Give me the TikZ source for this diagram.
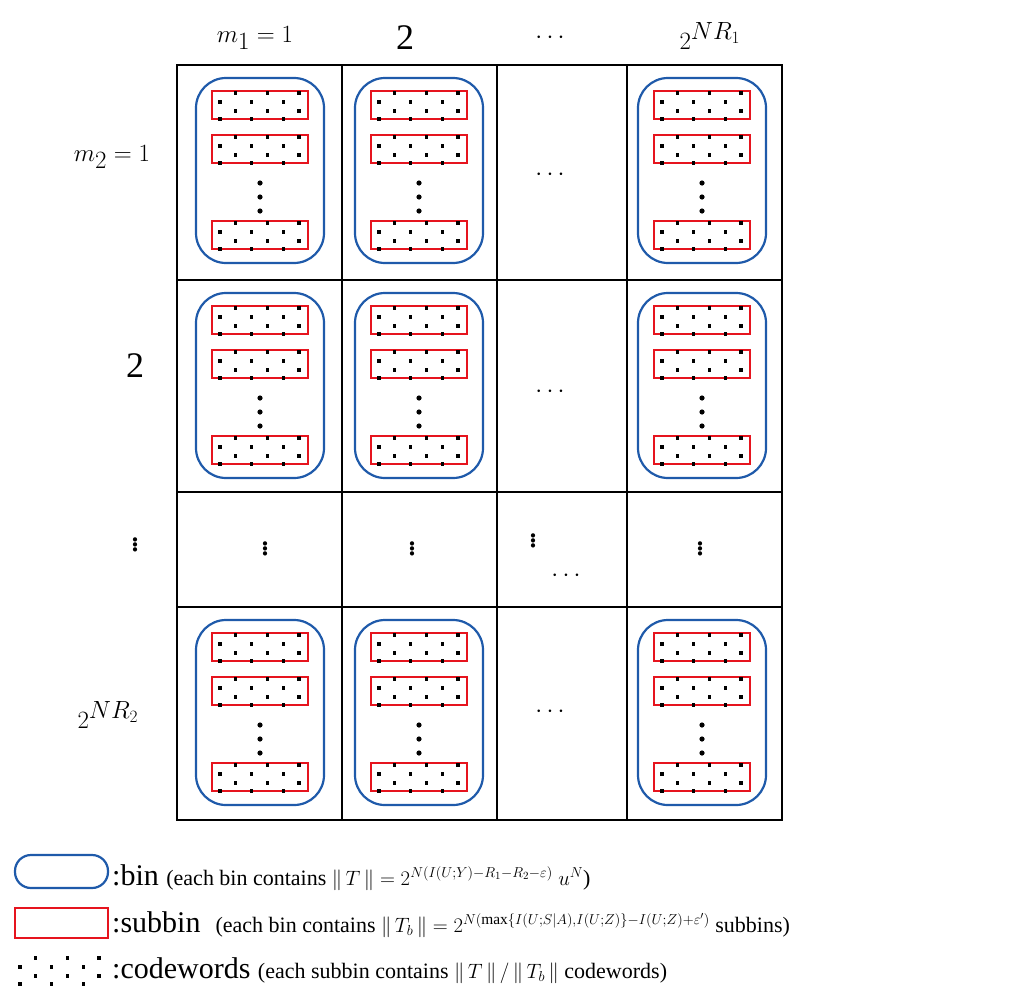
\documentclass[tikz,border=0pt]{standalone}
\usepackage{fontspec}
\setmainfont{Liberation Serif}
\begin{document}
\begin{tikzpicture}[x=1pt,y=-1pt,
  grid/.style={line width=2pt,black},
  bin/.style={draw={rgb,255:red,31;green,90;blue,170},line width=2.2pt,rounded corners=30pt},
  subbin/.style={draw={rgb,255:red,230;green,20;blue,30},line width=2pt},
  big/.style={font=\fontsize{36}{40}\selectfont,inner sep=0pt},
  leg/.style={font=\fontsize{30}{34}\selectfont,inner sep=0pt,anchor=base west}]
\useasboundingbox (0,0) rectangle (1024,998);
\newcommand{\cwrow}[2]{%
  \foreach \kk/\ddy in {0/2,1/11,2/20,3/28}{%
    \foreach \ii in {0,...,5}{%
      \pgfmathtruncatemacro{\myodd}{mod(\ii+\kk,2)}%
      \ifnum\myodd=1\relax
        \fill (#1+7+\ii*15.8-1.6,#2+\ddy-1.6) rectangle ++(3.2,3.2);%
      \fi
    }}}
\newcommand{\mybin}[2]{%
  \draw[bin] (#1-64,#2+13) rectangle (#1+64,#2+198);
  \foreach \sy in {26,70,156}{%
    \draw[subbin] (#1-48,#2+\sy) rectangle (#1+48,#2+\sy+28);
    \cwrow{#1-47}{#2+\sy}%
  }
  \foreach \vy in {118,132,146}{\fill (#1,#2+\vy) circle (2.6);}
}
% grid
\draw[grid] (177,65) rectangle (782,820);
\foreach \gx in {342,497,627}{\draw[grid] (\gx,65) -- (\gx,820);}
\foreach \gy in {280,492,607}{\draw[grid] (177,\gy) -- (782,\gy);}
% bins
\foreach \rr in {65,280,607}{%
  \foreach \cc in {260,419,702}{\mybin{\cc}{\rr}}%
}
% ellipses
\foreach \ey in {175,392,712}{\node[big] at (550,\ey) {$\cdots$};}
\foreach \ex in {265,412,700}{\node[big] at (\ex,546) {$\vdots$};}
\node[big] (cv) at (533,538) {$\vdots$};
\node[big] (ch) at (566,576) {$\cdots$};
% headers
\node[big] (m1) at (255,38) {$m_1=1$};
\node[big] (c2) at (405,38) {2};
\node[big] (c3) at (550,38) {$\cdots$};
\node[big] (c4) at (710,36) {$2^{NR_1}$};
\node[big] (r1) at (112,157) {$m_2=1$};
\node[big] (r2) at (135,366) {2};
\node[big] (r3) at (135,542) {$\vdots$};
\node[big] (r4) at (108,715) {$2^{NR_2}$};
% legend
\draw[bin,rounded corners=16pt] (15,855) rectangle (108,888);
\draw[subbin] (15,908) rectangle (108,938);
\cwrow{13}{956}
\node[leg] (l1) at (112,885) {:bin {\fontsize{22}{26}\selectfont(each bin contains $\|\,T\,\| = 2^{N(I(U;Y)-R_1-R_2-\varepsilon)}\ u^N$)}};
\node[leg] (l2) at (112,932) {:subbin \ {\fontsize{22}{26}\selectfont(each bin contains $\|\,T_b\,\| = 2^{N(\max\{I(U;S|A),I(U;Z)\}-I(U;Z)+\varepsilon')}$ subbins)}};
\node[leg] (l3) at (112,978) {:codewords {\fontsize{22}{26}\selectfont(each subbin contains $\|\,T\,\|\,/\,\|\,T_b\,\|$ codewords)}};
\end{tikzpicture}
\end{document}
